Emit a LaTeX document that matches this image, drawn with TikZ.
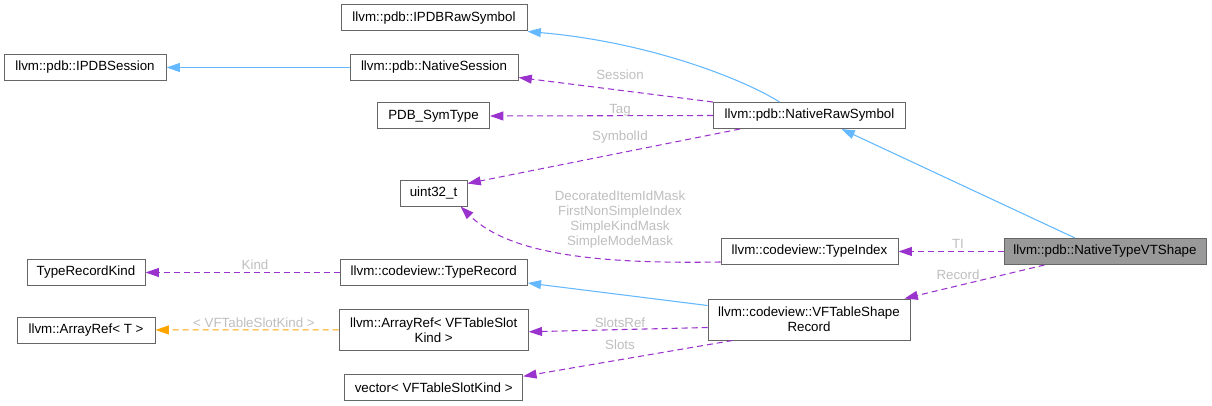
\documentclass[tikz,border=0pt]{standalone}
\usepackage{fontspec}
\setmainfont{Liberation Sans}
\usetikzlibrary{arrows.meta,calc}
\definecolor{edgeblue}{HTML}{63B8FF}
\definecolor{edgepurple}{HTML}{9A32CD}
\definecolor{edgeorange}{HTML}{FFA500}
\definecolor{lblgray}{HTML}{BEBEBE}
\definecolor{boxline}{HTML}{666666}
\definecolor{boxfill}{HTML}{999999}

\begin{document}
\begin{tikzpicture}[x=0.75pt, y=-0.75pt,
	font=\fontsize{10}{11.25}\selectfont,
	cls/.style={draw=boxline, fill=white, line width=0.75pt, inner sep=0pt, minimum height=19.5pt, align=center},
	inh/.style={draw=edgeblue, line width=0.8pt, -{Triangle[length=10pt,width=6.7pt]}},
	mem/.style={draw=edgepurple, line width=0.8pt, dash pattern=on 4.5pt off 3pt, -{Triangle[length=10pt,width=6.7pt]}},
	tmpl/.style={mem, draw=edgeorange},
	lbl/.style={text=lblgray, inner sep=0pt, align=center}]
	\useasboundingbox (0,0) rectangle (1212,406);
	% classes
	\node[cls, minimum width=139.5pt] (rawsym) at (434,18) {llvm::pdb::IPDBRawSymbol};
	\node[cls, minimum width=121.5pt] (session) at (85,67.5) {llvm::pdb::IPDBSession};
	\node[cls, minimum width=126pt] (natsession) at (434,67.5) {llvm::pdb::NativeSession};
	\node[cls, minimum width=84pt] (symtype) at (433.5,116) {PDB\_SymType};
	\node[cls, minimum width=144pt] (natraw) at (809.5,115.5) {llvm::pdb::NativeRawSymbol};
	\node[cls, minimum width=50.25pt] (uint) at (433.5,193) {uint32\_t};
	\node[cls, minimum width=88.5pt] (kind) at (86,272.5) {TypeRecordKind};
	\node[cls, minimum width=140.25pt] (typerec) at (433.7,272.5) {llvm::codeview::TypeRecord};
	\node[cls, minimum width=132.75pt] (typeidx) at (809.5,251.5) {llvm::codeview::TypeIndex};
	\node[cls, fill=boxfill, minimum width=151.5pt] (vtshape) at (1105,251.5) {llvm::pdb::NativeTypeVTShape};
	\node[cls, minimum width=103.5pt] (arrayt) at (86,330) {llvm::ArrayRef< T >};
	\node[cls, minimum width=141.75pt, minimum height=30.75pt] (arrayvf) at (433.7,329.8) {llvm::ArrayRef< VFTableSlot\\Kind >};
	\node[cls, minimum width=151.5pt, minimum height=30.75pt] (shaperec) at (809,319.5) {llvm::codeview::VFTableShape\\Record};
	\node[cls, minimum width=133.5pt] (vec) at (433.7,387.3) {vector< VFTableSlotKind >};
	% inheritance
	\draw[inh] (natsession) -- (session);
	\draw[inh] ($(natraw.north)+(-30,0)$) .. controls (745,80) and (650,42) .. (rawsym.south east);
	\draw[inh] ($(vtshape.north)+(-30,0)$) -- ($(natraw.south)+(32,0)$);
	\draw[inh] ($(shaperec.north west)+(0,7)$) -- ($(typerec.south east)+(0,-3)$);
	% members
	\draw[mem] (natraw.north west) -- ($(natsession.east)+(0,10)$);
	\node[lbl] (lsession) at (620,74.7) {Session};
	\draw[mem] (natraw.west) -- (symtype.east);
	\node[lbl] (ltag) at (620,110) {Tag};
	\draw[mem] ($(natraw.south west)+(27,0)$) -- ($(uint.north east)+(0,4)$);
	\node[lbl] (lsymid) at (620,137) {SymbolId};
	\draw[mem] ($(typeidx.south west)+(0,-3)$) .. controls (600,264) and (510,255) .. ($(uint.south)+(27,0)$);
	\node[lbl] (lmasks) at (620,219.5) {DecoratedItemIdMask\\FirstNonSimpleIndex\\SimpleKindMask\\SimpleModeMask};
	\draw[mem] (vtshape) -- (typeidx);
	\node[lbl] (lti) at (958,244) {TI};
	\draw[mem] ($(vtshape.south west)+(41,0)$) -- ($(shaperec.north east)+(-6,0)$);
	\node[lbl] (lrecord) at (958,274.5) {Record};
	\draw[mem] (typerec) -- (kind);
	\node[lbl] (lkind) at (255,265) {Kind};
	\draw[mem] ($(shaperec.west)+(0,8)$) -- ($(arrayvf.east)+(0,2)$);
	\node[lbl] (lslotsref) at (620,322.3) {SlotsRef};
	\draw[mem] ($(shaperec.south west)+(25,0)$) -- ($(vec.north east)+(0,2.5)$);
	\node[lbl] (lslots) at (620,344.3) {Slots};
	% template instance
	\draw[tmpl] (arrayvf) -- (arrayt);
	\node[lbl] (ltmpl) at (254,322.5) {< VFTableSlotKind >};
\end{tikzpicture}
\end{document}
